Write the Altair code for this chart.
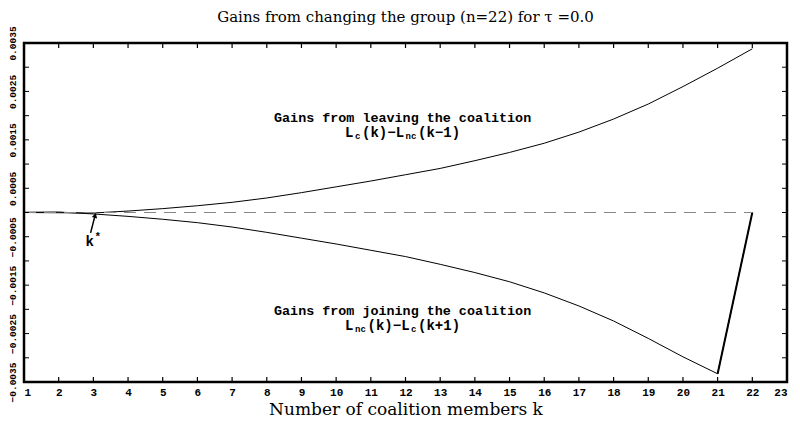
import altair as alt
import pandas as pd

# ---- data ----
k_values = list(range(1, 23))
leaving_gain = [0.0, -0.000005, -0.00001, 0.00003, 0.00008, 0.00014, 0.00021, 0.00030,
                0.00041, 0.00053, 0.00065, 0.00078, 0.00091, 0.00107, 0.00124, 0.00143,
                0.00166, 0.00193, 0.00224, 0.00260, 0.00298, 0.00338]
joining_gain = [0.000005, 0.00001, -0.00003, -0.00008, -0.00014, -0.00021, -0.00030, -0.00041,
                -0.00053, -0.00065, -0.00078, -0.00091, -0.00107, -0.00124, -0.00143, -0.00166,
                -0.00193, -0.00224, -0.00260, -0.00298, -0.00333, 0.0]
x_ticks = list(range(1, 24))
y_ticks = [-0.0035, -0.003, -0.0025, -0.002, -0.0015, -0.001, -0.0005, 0.0,
           0.0005, 0.001, 0.0015, 0.002, 0.0025, 0.003, 0.0035]
y_labels = [0.0035, 0.0025, 0.0015, 0.0005, -0.0005, -0.0015, -0.0025, -0.0035]
zero_line_k = [1, 22]

W, H = 763, 339
MONO = "Liberation Mono"
SERIF = "DejaVu Serif"

xs = alt.Scale(domain=[1, 23], nice=False, zero=False)
ys = alt.Scale(domain=[-0.0035, 0.0035], nice=False, zero=False)

x_axis = alt.Axis(
    values=x_ticks, ticks=False, domain=False, grid=False, format="d",
    labelFont=MONO, labelFontWeight="bold", labelFontSize=11, labelColor="black",
    labelPadding=4, title="Number of coalition members k", titleFont=SERIF,
    titleFontSize=17, titleFontWeight="normal", titleColor="black", titlePadding=4)
y_axis = alt.Axis(
    values=y_labels, ticks=False, domain=False, grid=False, format=".4f",
    labelAngle=270, labelAlign="center", labelBaseline="bottom", labelPadding=7,
    labelFont=MONO, labelFontWeight="bold", labelFontSize=9.5, labelColor="black",
    labelOverlap=False, labelBound=False, title=None)


def X(field):
    return alt.X(field, type="quantitative", scale=xs, axis=x_axis)


def Y(field):
    return alt.Y(field, type="quantitative", scale=ys, axis=y_axis)


curves = pd.DataFrame({"k": k_values, "leave": leaving_gain, "join": joining_gain})

upper = alt.Chart(curves).mark_line(color="black", strokeWidth=1).encode(x=X("k"), y=Y("leave"))
lower = alt.Chart(curves).mark_line(color="black", strokeWidth=1).encode(x=X("k"), y=Y("join"))
jump = alt.Chart(curves.tail(2)).mark_line(color="black", strokeWidth=2).encode(x=X("k"), y=Y("join"))

zero = alt.Chart(pd.DataFrame({"k": zero_line_k, "v": [0.0, 0.0]})).mark_line(
    color="#888888", strokeWidth=1, strokeDash=[12, 8]).encode(x=X("k"), y=Y("v"))

xt = pd.DataFrame({"k": x_ticks})
yt = pd.DataFrame({"v": y_ticks})
tick_bottom = alt.Chart(xt).mark_rule(color="black", strokeWidth=1.2).encode(
    x=X("k"), y=alt.value(H), y2=alt.value(H - 5))
tick_top = alt.Chart(xt).mark_rule(color="black", strokeWidth=1.2).encode(
    x=X("k"), y=alt.value(0), y2=alt.value(5))
tick_left = alt.Chart(yt).mark_rule(color="black", strokeWidth=1).encode(
    y=Y("v"), x=alt.value(0), x2=alt.value(5))
tick_right = alt.Chart(yt).mark_rule(color="black", strokeWidth=1).encode(
    y=Y("v"), x=alt.value(W), x2=alt.value(W - 5))


# ---- annotations ----
def seg_layers(kx, vy, segments):
    out = []
    df = pd.DataFrame({"k": [kx], "v": [vy]})
    for txt, dx, dy, size in segments:
        out.append(alt.Chart(df).mark_text(
            text=txt, font=MONO, fontWeight="bold", fontSize=size, color="black",
            align="left", baseline="middle", dx=dx, dy=dy).encode(x=X("k"), y=Y("v")))
    return out


ann_x = 11.9
labels = []
labels += seg_layers(ann_x, 0.00196, [("Gains from leaving the coalition", -128, 0, 13.4)])
labels += seg_layers(ann_x, 0.00164, [("L", -57, 0, 14), ("c", -47, 3, 9),
                                      ("(k)\u2212L", -40, 0, 14), ("nc", 3.5, 3, 9),
                                      ("(k\u22121)", 16, 0, 14)])
labels += seg_layers(ann_x, -0.00204, [("Gains from joining the coalition", -128, 0, 13.4)])
labels += seg_layers(ann_x, -0.00235, [("L", -57, 0, 14), ("nc", -47, 3, 9),
                                       ("(k)\u2212L", -34.5, 0, 14), ("c", 9, 3, 9),
                                       ("(k+1)", 16, 0, 14)])
labels += seg_layers(2.92, -0.00060, [("k", -5, 0, 14), ("*", 4, -5, 11)])

arrow_df = pd.DataFrame({"k": [2.92], "v": [-0.00042], "k2": [3.05], "v2": [-0.00006]})
arrow = alt.Chart(arrow_df).mark_rule(color="black", strokeWidth=1.5).encode(
    x=X("k"), y=Y("v"), x2="k2:Q", y2="v2:Q")
head = alt.Chart(arrow_df).mark_point(shape="triangle-up", filled=True, color="black",
                                      size=30, angle=15, opacity=1).encode(
    x=X("k2"), y=Y("v2"))

chart = alt.layer(upper, lower, jump, zero, tick_bottom, tick_top, tick_left, tick_right,
                  arrow, head, *labels).properties(
    width=W, height=H,
    title=alt.TitleParams(text="Gains from changing the group (n=22) for  \u03c4 =0.0",
                          font=SERIF, fontSize=15, fontWeight="normal",
                          color="black", anchor="middle", offset=1),
    autosize=alt.AutoSizeParams(type="none"),
    padding={"left": 16, "top": 35, "right": 4, "bottom": 40},
).configure_view(stroke="black", strokeWidth=2.5)

chart.save("out.html", embed_options={"renderer": "svg", "actions": False})
